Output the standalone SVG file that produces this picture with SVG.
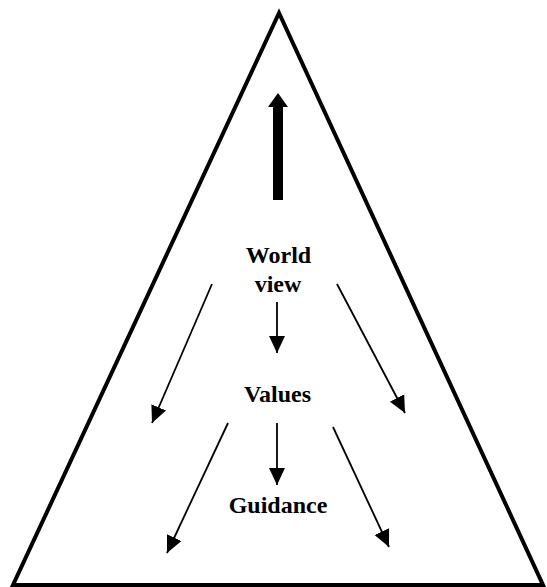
<svg xmlns="http://www.w3.org/2000/svg" width="547" height="587" viewBox="0 0 547 587">
<style>
.lbl{font-family:"Liberation Serif","Times New Roman",serif;font-weight:bold;font-size:24px;fill:#000;text-anchor:middle}
.conn{stroke:#000;stroke-width:1.8;fill:none;marker-end:url(#ah)}
</style>
<defs>
<marker id="ah" markerUnits="userSpaceOnUse" markerWidth="18" markerHeight="18" viewBox="0 0 18 18" refX="17" refY="9" orient="auto">
<path d="M0,1 L17,9 L0,17 Z" fill="#000"/>
</marker>
</defs>
<rect width="547" height="587" fill="#fff"/>
<g id="pyramid">
<polygon points="279,13 13,585 543,585" fill="none" stroke="#000" stroke-width="4" stroke-linejoin="miter"/>
</g>
<g id="up-arrow">
<rect x="273" y="106" width="10" height="94" fill="#000"/>
<polygon points="278,93 268,107 288,107" fill="#000"/>
</g>
<g id="worldview">
<text class="lbl" x="278.5" y="263">World</text>
<text class="lbl" x="278" y="292">view</text>
</g>
<g id="values">
<text class="lbl" x="277.5" y="402">Values</text>
</g>
<g id="guidance">
<text class="lbl" x="278" y="513">Guidance</text>
</g>
<g id="connectors">
<line class="conn" x1="277" y1="302" x2="277" y2="353"/>
<line class="conn" x1="212" y1="284" x2="152" y2="423"/>
<line class="conn" x1="337" y1="284" x2="405" y2="413"/>
<line class="conn" x1="277" y1="423" x2="277" y2="485"/>
<line class="conn" x1="228" y1="423" x2="167" y2="553"/>
<line class="conn" x1="333" y1="427" x2="389" y2="547"/>
</g>
</svg>
